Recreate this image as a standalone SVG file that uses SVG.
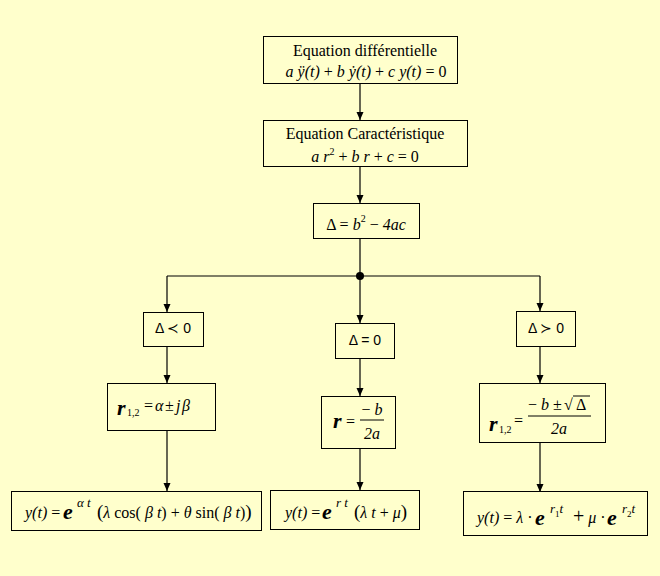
<svg xmlns="http://www.w3.org/2000/svg" width="660" height="576" viewBox="0 0 660 576">
<defs>
<style>
.bg{fill:#FFFFCC}
.box{fill:#FFFFCC;stroke:#000;stroke-width:1}
.ln{fill:none;stroke:#000;stroke-width:1.2}
.t{font-family:"Liberation Serif",serif;font-size:16px;fill:#000}
.m{font-family:"Liberation Serif",serif;font-style:italic;font-size:16px;fill:#000}
.u{font-style:normal}
.s{font-family:"Liberation Sans",sans-serif;font-size:14px;fill:#000}
.e{font-family:"Liberation Serif",serif;font-style:italic;font-weight:bold;font-size:22px;fill:#000}
.sup{font-family:"Liberation Serif",serif;font-style:italic;font-size:13px;fill:#000}
.sub{font-family:"Liberation Serif",serif;font-size:10px;fill:#000}
</style>
<marker id="ar" markerWidth="10" markerHeight="10" refX="8" refY="4" orient="auto" markerUnits="userSpaceOnUse">
<path d="M0,0.5 L8,4 L0,7.5 Z" fill="#000"/>
</marker>
</defs>
<rect class="bg" x="0" y="0" width="660" height="576"/>

<g id="connectors">
<line class="ln" x1="360" y1="84" x2="360" y2="120" marker-end="url(#ar)"/>
<line class="ln" x1="360" y1="167" x2="360" y2="203" marker-end="url(#ar)"/>
<line class="ln" x1="360" y1="239" x2="360" y2="276"/>
<line class="ln" x1="167" y1="276" x2="540" y2="276"/>
<circle cx="360" cy="276" r="4" fill="#000"/>
<line class="ln" x1="167" y1="276" x2="167" y2="312" marker-end="url(#ar)"/>
<line class="ln" x1="360" y1="276" x2="360" y2="323" marker-end="url(#ar)"/>
<line class="ln" x1="540" y1="276" x2="540" y2="311" marker-end="url(#ar)"/>
<line class="ln" x1="167" y1="347" x2="167" y2="383" marker-end="url(#ar)"/>
<line class="ln" x1="360" y1="359" x2="360" y2="396" marker-end="url(#ar)"/>
<line class="ln" x1="540" y1="347" x2="540" y2="383" marker-end="url(#ar)"/>
<line class="ln" x1="167" y1="431" x2="167" y2="491" marker-end="url(#ar)"/>
<line class="ln" x1="360" y1="448" x2="360" y2="490" marker-end="url(#ar)"/>
<line class="ln" x1="540" y1="443" x2="540" y2="492" marker-end="url(#ar)"/>
</g>

<g id="n-diff">
<rect class="box" x="263.5" y="36.5" width="194" height="47"/>
<text class="t" x="365" y="56" text-anchor="middle">Equation différentielle</text>
<text class="m" x="366" y="77" text-anchor="middle" font-size="17">a ÿ(t) <tspan class="u">+</tspan> b ẏ(t) <tspan class="u">+</tspan> c y(t) <tspan class="u">= 0</tspan></text>
</g>

<g id="n-carac">
<rect class="box" x="263.5" y="120.5" width="204" height="46"/>
<text class="t" x="365" y="139" text-anchor="middle">Equation Caractéristique</text>
<text class="m" x="365" y="162" text-anchor="middle" font-size="17">a r<tspan class="u" font-size="10" dy="-7">2</tspan><tspan dy="7"> </tspan><tspan class="u">+</tspan> b r <tspan class="u">+</tspan> c <tspan class="u">= 0</tspan></text>
</g>

<g id="n-delta">
<rect class="box" x="313.5" y="203.5" width="106" height="35"/>
<text class="m" x="366" y="230" text-anchor="middle"><tspan class="u">Δ =</tspan> b<tspan class="u" font-size="10" dy="-8">2</tspan><tspan dy="8"> </tspan><tspan class="u">−</tspan> 4ac</text>
</g>

<g id="n-neg">
<rect class="box" x="143.5" y="312.5" width="60" height="34"/>
<text class="s" x="173" y="333" text-anchor="middle">Δ ≺ 0</text>
</g>

<g id="n-zero">
<rect class="box" x="335.5" y="323.5" width="59" height="35"/>
<text class="s" x="365" y="345" text-anchor="middle">Δ = 0</text>
</g>

<g id="n-pos">
<rect class="box" x="516.5" y="311.5" width="59" height="35"/>
<text class="s" x="546" y="333" text-anchor="middle">Δ ≻ 0</text>
</g>

<g id="n-r-neg">
<rect class="box" x="107.5" y="383.5" width="108" height="47"/>
<text class="e" x="117" y="415" font-size="21">r</text>
<text class="sub" x="127" y="416">1,2</text>
<text class="m" x="144" y="411"><tspan class="u">=</tspan><tspan x="155">α</tspan><tspan class="u" x="165">±</tspan><tspan x="176">j</tspan><tspan x="182">β</tspan></text>
</g>

<g id="n-r-zero">
<rect class="box" x="321.5" y="396.5" width="74" height="52"/>
<text class="e" x="333" y="428" font-size="21">r</text>
<text class="m u" x="346" y="427">=</text>
<text class="m" x="372" y="415" text-anchor="middle"><tspan class="u">−</tspan> b</text>
<line x1="360" y1="420" x2="384" y2="420" stroke="#000" stroke-width="1"/>
<text class="m" x="372" y="439" text-anchor="middle">2a</text>
</g>

<g id="n-r-pos">
<rect class="box" x="479.5" y="383.5" width="126" height="59"/>
<text class="e" x="489" y="431" font-size="21">r</text>
<text class="sub" x="499" y="433">1,2</text>
<text class="m u" x="514" y="426">=</text>
<text class="m" x="528" y="410"><tspan class="u">−</tspan> b <tspan class="u">±</tspan></text>
<text class="m u" x="564" y="410">√</text>
<line x1="573" y1="396" x2="590" y2="396" stroke="#000" stroke-width="1"/>
<text class="m u" x="576" y="410">Δ</text>
<line x1="528" y1="416" x2="591" y2="416" stroke="#000" stroke-width="1"/>
<text class="m" x="559" y="434" text-anchor="middle">2a</text>
</g>

<g id="n-y-neg">
<rect class="box" x="11.5" y="491.5" width="250" height="39"/>
<text class="m" x="25" y="518">y(t) <tspan class="u">=</tspan></text>
<text class="e" x="63" y="519">e</text>
<text class="sup" x="77" y="507">α t</text>
<text class="m" x="97" y="518"><tspan class="u" font-size="19">(</tspan>λ <tspan class="u">cos(</tspan> β t<tspan class="u">) + </tspan>θ <tspan class="u">sin(</tspan> β t<tspan class="u">)</tspan><tspan class="u" font-size="19">)</tspan></text>
</g>

<g id="n-y-zero">
<rect class="box" x="270.5" y="490.5" width="149" height="39"/>
<text class="m" x="285" y="518">y(t) <tspan class="u">=</tspan></text>
<text class="e" x="322" y="519">e</text>
<text class="sup" x="336" y="507">r  t</text>
<text class="m" x="354" y="518"><tspan class="u" font-size="19">(</tspan>λ t <tspan class="u">+</tspan> μ<tspan class="u" font-size="19">)</tspan></text>
</g>

<g id="n-y-pos">
<rect class="box" x="463.5" y="491.5" width="184" height="44"/>
<text class="m" x="477" y="523">y(t) <tspan class="u">=</tspan> λ <tspan class="u">·</tspan></text>
<text class="e" x="535" y="525">e</text>
<text class="sup" x="550" y="513">r<tspan class="u" font-size="9" dy="4">1</tspan><tspan dy="-4">t</tspan></text>
<text class="m" x="573" y="523"><tspan class="u" font-size="20">+</tspan> μ <tspan class="u">·</tspan></text>
<text class="e" x="607" y="525">e</text>
<text class="sup" x="622" y="513">r<tspan class="u" font-size="9" dy="4">2</tspan><tspan dy="-4">t</tspan></text>
</g>
</svg>
